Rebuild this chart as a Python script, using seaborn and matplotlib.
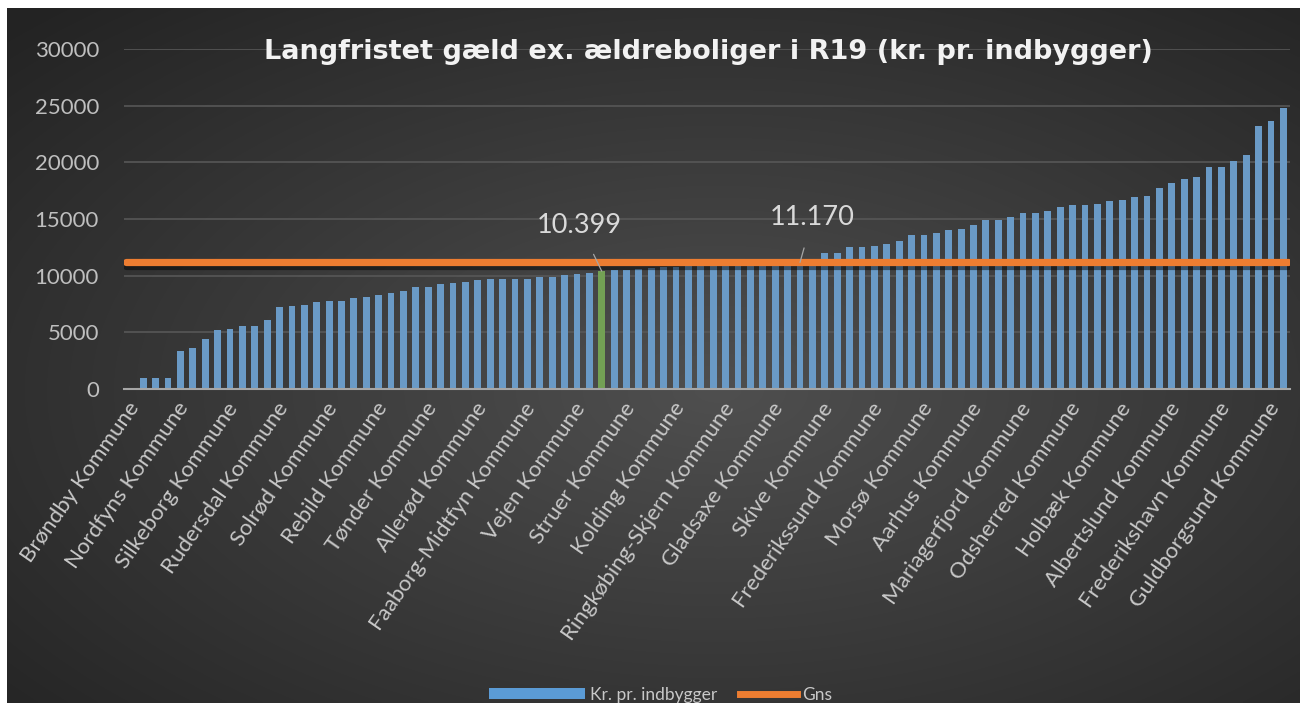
import numpy as np
import pandas as pd
import matplotlib
matplotlib.use("Agg")
import matplotlib.pyplot as plt
import seaborn as sns
from matplotlib.patches import Patch
from matplotlib.lines import Line2D
import matplotlib.patheffects as pe

# ---------------- data ----------------
title = "Langfristet gæld ex. ældreboliger i R19 (kr. pr. indbygger)"
series_names = ["Kr. pr. indbygger", "Gns"]
tick_labels = ["Brøndby Kommune", "Nordfyns Kommune", "Silkeborg Kommune", "Rudersdal Kommune",
               "Solrød Kommune", "Rebild Kommune", "Tønder Kommune", "Allerød Kommune",
               "Faaborg-Midtfyn Kommune", "Vejen Kommune", "Struer Kommune", "Kolding Kommune",
               "Ringkøbing-Skjern Kommune", "Gladsaxe Kommune", "Skive Kommune", "Frederikssund Kommune",
               "Morsø Kommune", "Aarhus Kommune", "Mariagerfjord Kommune", "Odsherred Kommune",
               "Holbæk Kommune", "Albertslund Kommune", "Frederikshavn Kommune", "Guldborgsund Kommune"]
label_step = 4
values = [1000, 1000, 1000, 3380, 3620, 4380, 5180, 5290, 5530, 5530,
          6090, 7200, 7320, 7440, 7650, 7760, 7760, 8000, 8090, 8320,
          8440, 8670, 9020, 9020, 9230, 9350, 9460, 9590, 9670, 9680,
          9680, 9690, 9900, 9910, 10030, 10140, 10260, 10399, 10470, 10480,
          10580, 10700, 10760, 10800, 10850, 10890, 10940, 11000, 11040, 11090,
          11150, 11230, 11300, 11480, 11500, 11970, 11980, 12500, 12510, 12640,
          12760, 13080, 13620, 13630, 13770, 14000, 14090, 14450, 14910, 14920,
          15200, 15550, 15560, 15670, 16030, 16230, 16240, 16360, 16580, 16700,
          16910, 17020, 17700, 18140, 18490, 18730, 19610, 19620, 20080, 20640,
          23220, 23670, 24810]
highlight_index = 37
highlight_label = "10.399"
gns_value = 11170
gns_label = "11.170"
gns_label_index = 53
y_ticks = [0, 5000, 10000, 15000, 20000, 25000, 30000]

# ---------------- style ----------------
BLUE = "#5b9bd5"
GREEN = "#70ad47"
ORANGE = "#ed7d31"
TXT = "#c8c8c8"
GRID = "#575757"

W, H = 1306, 726
fig = plt.figure(figsize=(W / 100, H / 100), dpi=100, facecolor="white")

# chart-area background (radial gradient)
bg = fig.add_axes([7 / W, 1 - 703 / H, (1300 - 7) / W, (703 - 8) / H])
gy, gx = np.mgrid[0:1:300j, 0:1:500j]
r = np.sqrt(((gx - 0.55) / 0.75) ** 2 + ((gy - 0.55) / 0.75) ** 2)
shade = np.clip(1 - r, 0, 1)
lo, hi = np.array([0.14, 0.14, 0.14]), np.array([0.31, 0.31, 0.31])
img = lo + (hi - lo) * shade[..., None]
bg.imshow(img, aspect="auto", extent=[0, 1, 0, 1], interpolation="bilinear")
bg.set_axis_off()

ax = fig.add_axes([124 / W, 1 - 389 / H, (1290 - 124) / W, (389 - 49) / H])
ax.patch.set_alpha(0)

N = len(values)
df = pd.DataFrame({
    "idx": np.arange(N),
    "value": values,
    "kind": ["hl" if i == highlight_index else "base" for i in range(N)],
})
sns.barplot(data=df, x="idx", y="value", hue="kind",
            palette={"base": BLUE, "hl": GREEN}, dodge=False, width=0.55,
            legend=False, ax=ax, zorder=3, edgecolor="none")

ax.axhline(gns_value, color=ORANGE, lw=5.2, solid_capstyle="round", zorder=4,
           xmin=0.002, xmax=0.998,
           path_effects=[pe.SimpleLineShadow(offset=(0, -2.5), shadow_color="black", alpha=0.45),
                         pe.Normal()])

ax.set_xlim(-1.55, N - 1 + 0.54)
ax.set_ylim(0, 30000)
ax.set_yticks(y_ticks)
ax.set_yticklabels([str(v) for v in y_ticks])
ax.yaxis.grid(True, color=GRID, lw=1.2, zorder=0)
ax.xaxis.grid(False)
for s in ["top", "right", "left"]:
    ax.spines[s].set_visible(False)
ax.spines["bottom"].set_color("#a6a6a6")
ax.spines["bottom"].set_linewidth(1.5)
ax.spines["bottom"].set_zorder(5)

tick_pos = list(range(0, N, label_step))
ax.set_xticks(tick_pos)
ax.set_xticklabels(tick_labels, rotation=55, ha="right", va="top",
                   fontsize=16, color=TXT, family="Lato")
ax.tick_params(axis="x", length=0, pad=7)
ax.tick_params(axis="y", length=0, pad=18, labelsize=16, labelcolor="#bfbfbf")
for t in ax.get_yticklabels():
    t.set_family("Lato")
ax.set_xlabel("")
ax.set_ylabel("")

# data labels
ax.annotate(highlight_label, xy=(highlight_index, values[highlight_index]),
            xytext=(-16, 33), textcoords="offset points", ha="center", va="center",
            fontsize=19.5, color="#d9d9d9", family="Lato", zorder=6,
            arrowprops=dict(arrowstyle="-", color="#a6a6a6", lw=0.9, shrinkA=11, shrinkB=0))
ax.annotate(gns_label, xy=(gns_label_index, gns_value),
            xytext=(9, 32), textcoords="offset points", ha="center", va="center",
            fontsize=19.5, color="#d9d9d9", family="Lato", zorder=6,
            arrowprops=dict(arrowstyle="-", color="#a6a6a6", lw=0.9, shrinkA=11, shrinkB=0))

# title
fig.text(708 / W, 1 - 52 / H, title, ha="center", va="center", fontsize=19.5,
         fontweight="bold", color="#f2f2f2", family="DejaVu Sans")

# legend (two parts so each key keeps its own length)
leg1 = fig.legend(handles=[Patch(facecolor=BLUE, edgecolor="none", label=series_names[0])],
                  loc="center", bbox_to_anchor=(603 / W, 1 - 695 / H), frameon=False,
                  handlelength=5.5, handleheight=0.6, handletextpad=0.3,
                  prop={"family": "Lato", "size": 12.5})
leg2 = fig.legend(handles=[Line2D([0], [0], color=ORANGE, lw=5, label=series_names[1])],
                  loc="center", bbox_to_anchor=(786 / W, 1 - 695 / H), frameon=False,
                  handlelength=3.3, handletextpad=0.3,
                  prop={"family": "Lato", "size": 12.5})
for lg in (leg1, leg2):
    for t in lg.get_texts():
        t.set_color(TXT)

fig.savefig("out.png", dpi=100, facecolor="white")
